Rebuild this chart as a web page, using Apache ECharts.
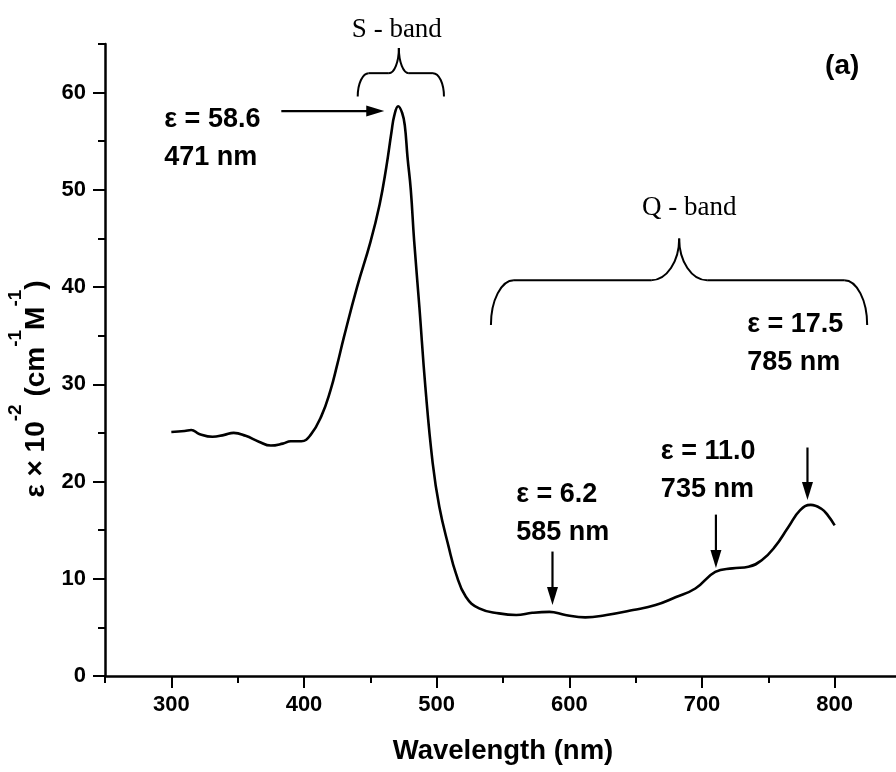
<!DOCTYPE html>
<html><head><meta charset="utf-8">
<script src="https://cdn.jsdelivr.net/npm/echarts@6/dist/echarts.min.js"></script>
<style>html,body{margin:0;padding:0;background:#fff}#c{width:896px;height:772px}</style>
</head><body><div id="c"></div>
<script>
// ---- data ----
const wavelengths = [300,310,315,321,331,340,347,356,366,375,384,390,398,405,413,420,425,430,440,450,457,462,466,468,471,474,476,478,480.5,483,487,491.5,497,502,509,514.5,522,532,547,560,572,585,597,612,628,648,665,680,695,710,723,735,745,755,765,774,782,790,795,800];
const epsilonValues = [25.1,25.2,25.3,24.9,24.6,24.8,25.0,24.7,24.1,23.7,23.9,24.15,24.15,24.8,26.7,29.4,32.0,34.8,40.0,44.6,48.5,52.3,56.0,57.6,58.6,57.9,56.6,53.4,50.0,44.8,37.9,29.7,21.9,17.4,13.3,10.55,8.15,6.95,6.44,6.27,6.5,6.6,6.27,6.03,6.27,6.78,7.3,8.1,9.0,10.7,11.07,11.23,11.9,13.3,15.3,17.06,17.6,17.2,16.5,15.5];
const xTickLabels = [300,400,500,600,700,800];
const yTickLabels = [0,10,20,30,40,50,60];
const peakLabels = ['ε = 58.6\n471 nm','ε = 6.2\n585 nm','ε = 11.0\n735 nm','ε = 17.5\n785 nm'];
const bandLabels = ['S - band','Q - band'];
const panelLabel = '(a)';

// ---- annotation placement (data units) ----
const textAnchors = [[294.7,55.3],[560.0,16.75],[669.0,21.17],[734.1,34.17]];
const arrowDefs = [
  {from:[382.9,58.1], to:[460.5,58.1]},
  {from:[587.3,12.8], to:[587.3,7.3]},
  {from:[710.5,16.6], to:[710.5,11.1]},
  {from:[779.5,23.5], to:[779.5,18.1]}
];
const braceDefs = [
  {xl:440.5, xr:505.5, xc:471.5, yEnd:59.6, yHor:62.0, yTip:64.6, r:11, c:10},
  {xl:540.9, xr:824.5, xc:682.8, yEnd:36.1, yHor:40.7, yTip:45.0, r:23, c:28}
];
const bandAnchors = [[470,66.4],[690.4,48.1]];
const panelAnchor = [792.8,62.7];

const series = wavelengths.map((w,i)=>[w, epsilonValues[i]]);
const FONT = '"Liberation Sans", Arial, sans-serif';
const SERIF = '"Liberation Serif", "Times New Roman", serif';

function renderAnnotations(params, api){
  const P = (x,y)=>api.coord([x,y]);
  const ch = [];
  const K = 0.552;
  braceDefs.forEach(b=>{
    const L = P(b.xl,b.yEnd), R = P(b.xr,b.yEnd), H = P(b.xc,b.yHor), T = P(b.xc,b.yTip);
    const yE = L[1], yH = H[1], yT = T[1], l = L[0], rr = R[0], cx = T[0];
    const st = {stroke:'#000', lineWidth:2, fill:null};
    ch.push({type:'bezierCurve', shape:{x1:l,y1:yE,cpx1:l,cpy1:yE-K*(yE-yH),cpx2:l+b.r-K*b.r,cpy2:yH,x2:l+b.r,y2:yH}, style:st});
    ch.push({type:'line', shape:{x1:l+b.r,y1:yH,x2:cx-b.c,y2:yH}, style:st});
    ch.push({type:'bezierCurve', shape:{x1:cx-b.c,y1:yH,cpx1:cx-b.c+K*b.c,cpy1:yH,cpx2:cx,cpy2:yT+K*(yH-yT),x2:cx,y2:yT}, style:st});
    ch.push({type:'bezierCurve', shape:{x1:cx,y1:yT,cpx1:cx,cpy1:yT+K*(yH-yT),cpx2:cx+b.c-K*b.c,cpy2:yH,x2:cx+b.c,y2:yH}, style:st});
    ch.push({type:'line', shape:{x1:cx+b.c,y1:yH,x2:rr-b.r,y2:yH}, style:st});
    ch.push({type:'bezierCurve', shape:{x1:rr-b.r,y1:yH,cpx1:rr-b.r+K*b.r,cpy1:yH,cpx2:rr,cpy2:yE-K*(yE-yH),x2:rr,y2:yE}, style:st});
  });
  arrowDefs.forEach(a=>{
    const p1 = P(a.from[0],a.from[1]), p2 = P(a.to[0],a.to[1]);
    const dx=p2[0]-p1[0], dy=p2[1]-p1[1], len=Math.hypot(dx,dy), ux=dx/len, uy=dy/len;
    const hl=18, hw=5.5;
    const bx=p2[0]-ux*hl, by=p2[1]-uy*hl;
    ch.push({type:'line', shape:{x1:p1[0],y1:p1[1],x2:bx+ux*2,y2:by+uy*2}, style:{stroke:'#000', lineWidth:2.2}});
    ch.push({type:'polygon', shape:{points:[[p2[0],p2[1]],[bx-uy*hw,by+ux*hw],[bx+uy*hw,by-ux*hw]]}, style:{fill:'#000'}});
  });
  peakLabels.forEach((t,i)=>{
    const p = P(textAnchors[i][0], textAnchors[i][1]);
    ch.push({type:'text', x:p[0], y:p[1], style:{text:t, fill:'#000', fontSize:27, fontWeight:'bold', fontFamily:FONT, lineHeight:38, align:'left', verticalAlign:'middle', textAlign:'left', textVerticalAlign:'middle'}});
  });
  bandLabels.forEach((t,i)=>{
    const p = P(bandAnchors[i][0], bandAnchors[i][1]);
    ch.push({type:'text', x:p[0], y:p[1], style:{text:t, fill:'#000', fontSize:27, fontFamily:SERIF, align:'center', verticalAlign:'middle', textAlign:'center', textVerticalAlign:'middle'}});
  });
  const pp = P(panelAnchor[0], panelAnchor[1]);
  ch.push({type:'text', x:pp[0], y:pp[1], style:{text:panelLabel, fill:'#000', fontSize:28, fontWeight:'bold', fontFamily:FONT, align:'left', verticalAlign:'middle', textAlign:'left', textVerticalAlign:'middle'}});
  return {type:'group', children:ch};
}

const axisLabelStyle = {color:'#000', fontSize:22, fontWeight:'bold', fontFamily:FONT};
const chart = echarts.init(document.getElementById('c'), null, {renderer:'canvas'});
chart.setOption({
  animation:false,
  backgroundColor:'#fff',
  grid:{left:105, right:-5, top:44, bottom:96, containLabel:false, outerBoundsMode:'none'},
  xAxis:[{
    type:'value', min:250, max:850, interval:50,
    axisLine:{show:true, onZero:false, lineStyle:{color:'#000', width:2.5}},
    axisTick:{show:true, length:12, lineStyle:{color:'#000', width:2}, customValues:xTickLabels},
    axisLabel:{...axisLabelStyle, margin:18, customValues:xTickLabels},
    splitLine:{show:false},
    name:'Wavelength (nm)', nameLocation:'middle', nameGap:61,
    nameTextStyle:{color:'#000', fontSize:27.5, fontWeight:'bold', fontFamily:FONT}
  },{
    type:'value', min:250, max:850, interval:50, position:'bottom', offset:0,
    axisLine:{show:false}, axisTick:{show:true, length:7, lineStyle:{color:'#000', width:2}},
    axisLabel:{show:false}, splitLine:{show:false}
  }],
  yAxis:[{
    type:'value', min:0, max:65, interval:5,
    axisLine:{show:true, onZero:false, lineStyle:{color:'#000', width:2.5}},
    axisTick:{show:true, length:12, lineStyle:{color:'#000', width:2}, customValues:yTickLabels},
    axisLabel:{...axisLabelStyle, margin:19, customValues:yTickLabels},
    splitLine:{show:false},
    name:'{m|ε × 10}{s|-2}{m| (cm}{s|-1}{m|M}{s|-1}{m|)}',
    nameLocation:'middle', nameRotate:90, nameGap:42,
    nameTextStyle:{padding:[0,58,0,0], rich:{
      m:{fontSize:28, fontWeight:'bold', fontFamily:FONT, color:'#000', lineHeight:44, verticalAlign:'bottom'},
      s:{fontSize:19, fontWeight:'bold', fontFamily:FONT, color:'#000', lineHeight:19, verticalAlign:'top'}
    }}
  },{
    type:'value', min:0, max:65, interval:5, position:'left', offset:0,
    axisLine:{show:false}, axisTick:{show:true, length:7, lineStyle:{color:'#000', width:2}},
    axisLabel:{show:false}, splitLine:{show:false}
  }],
  series:[{
    type:'line', data:series, xAxisIndex:0, yAxisIndex:0,
    showSymbol:false, symbol:'none', smooth:0.45,
    lineStyle:{color:'#000', width:2.6}, silent:true
  },{
    type:'custom', xAxisIndex:0, yAxisIndex:0, data:[[300,0]], clip:false,
    renderItem:renderAnnotations, silent:true, z:5
  }]
});
</script></body></html>
